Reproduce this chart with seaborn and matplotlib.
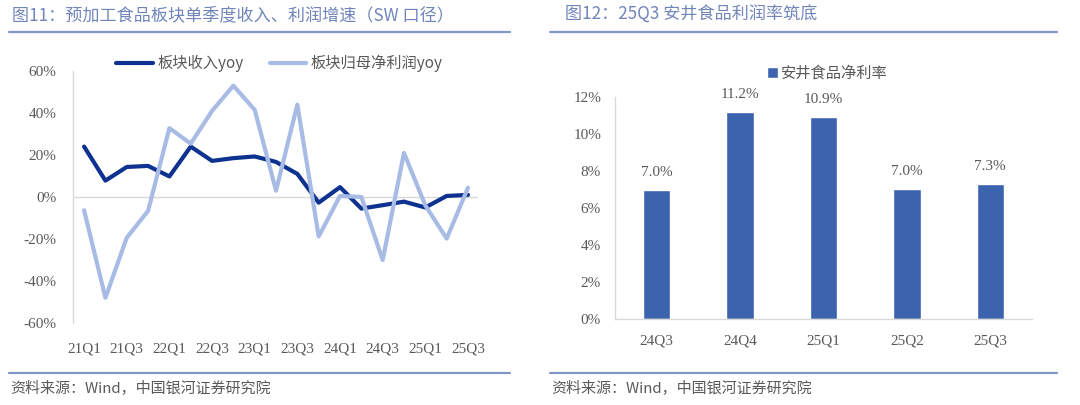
import matplotlib
matplotlib.use("Agg")
import matplotlib.pyplot as plt
import seaborn as sns
import pandas as pd
from matplotlib.lines import Line2D

quarters = ["21Q1", "21Q2", "21Q3", "21Q4", "22Q1", "22Q2", "22Q3", "22Q4",
            "23Q1", "23Q2", "23Q3", "23Q4", "24Q1", "24Q2", "24Q3", "24Q4",
            "25Q1", "25Q2", "25Q3"]
revenue_yoy = [24.0, 7.8, 14.3, 14.8, 9.8, 24.0, 17.2, 18.5, 19.3, 16.7, 11.0,
               -2.7, 4.7, -5.5, -3.9, -2.2, -5.0, 0.5, 1.0]
profit_yoy = [-6.3, -48.0, -19.4, -6.6, 32.8, 25.4, 41.0, 53.0, 41.5, 3.0, 44.0,
              -18.8, 0.5, 0.0, -30.0, 21.0, -4.0, -19.8, 4.4]

bar_quarters = ["24Q3", "24Q4", "25Q1", "25Q2", "25Q3"]
net_margin = [6.97, 11.2, 10.9, 7.04, 7.3]

sns.set_theme(style="white")
plt.rcParams["font.family"] = ["Liberation Serif", "Noto Sans CJK SC", "DejaVu Sans"]
cjk = ["Noto Sans CJK SC", "DejaVu Sans"]

title_c = "#7185bb"
rule_c = "#8095c8"
text_c = "#595959"
dark = "#0d3290"
light = "#a7bbe4"
bar_c = "#3c63ad"

fig = plt.figure(figsize=(10.8, 4.05), dpi=100)

# panel frames: titles, rules, source notes
fig.text(12 / 1080, 1 - 15 / 405, "图11：预加工食品板块单季度收入、利润增速（SW 口径）",
         family=cjk, fontsize=12.3, color=title_c, va="center")
fig.text(565 / 1080, 1 - 15 / 405, "图12：25Q3 安井食品利润率筑底",
         family=cjk, fontsize=12.3, color=title_c, va="center")
for x0, x1 in [(9, 510), (550, 1057)]:
    fig.add_artist(Line2D([x0 / 1080, x1 / 1080], [1 - 32 / 405] * 2, color=rule_c, lw=1.6))
    fig.add_artist(Line2D([x0 / 1080, x1 / 1080], [1 - 373 / 405] * 2, color=rule_c, lw=1.6))
fig.text(10 / 1080, 1 - 389 / 405, "资料来源：Wind，中国银河证券研究院",
         family=cjk, fontsize=10.8, color=text_c, va="center", style="italic")
fig.text(551 / 1080, 1 - 389 / 405, "资料来源：Wind，中国银河证券研究院",
         family=cjk, fontsize=10.8, color=text_c, va="center", style="italic")

# left: line chart
ax1 = fig.add_axes([73 / 1080, 1 - 323 / 405, 405 / 1080, 252 / 405])
df = pd.DataFrame({"idx": range(len(quarters)), "rev": revenue_yoy, "prof": profit_yoy})
sns.lineplot(data=df, x="idx", y="rev", ax=ax1, color=dark, lw=3, label="板块收入yoy")
sns.lineplot(data=df, x="idx", y="prof", ax=ax1, color=light, lw=3, label="板块归母净利润yoy")
ax1.set_xlim(-0.52, 18.47)
ax1.set_ylim(-60, 60)
ax1.axhline(0, color="#d9d9d9", lw=1, zorder=0)
ax1.set_yticks(range(-60, 61, 20))
ax1.set_yticklabels([f"{v}%" for v in range(-60, 61, 20)])
ax1.set_xticks(range(0, len(quarters), 2))
ax1.set_xticklabels(quarters[::2])
ax1.tick_params(axis="both", length=0, labelsize=11, labelcolor=text_c)
ax1.tick_params(axis="x", pad=14)
ax1.tick_params(axis="y", pad=12)
ax1.set_xlabel("")
ax1.set_ylabel("")
for s in ["top", "right", "bottom"]:
    ax1.spines[s].set_visible(False)
ax1.spines["left"].set_color("#d9d9d9")
ax1.spines["left"].set_linewidth(1)
leg = ax1.legend(loc="center", bbox_to_anchor=(0.51, 1.03), ncol=2, frameon=False,
                 prop={"family": cjk, "size": 11}, handlelength=2.4, columnspacing=1.7,
                 handletextpad=0.3)
for t in leg.get_texts():
    t.set_color(text_c)

# right: bar chart
ax2 = fig.add_axes([615 / 1080, 1 - 319 / 405, 417 / 1080, 222 / 405])
bdf = pd.DataFrame({"q": bar_quarters, "m": net_margin})
sns.barplot(data=bdf, x="q", y="m", ax=ax2, color=bar_c, width=0.33,
            saturation=1, label="安井食品净利率")
for p, v in zip(ax2.patches, net_margin):
    ax2.text(p.get_x() + p.get_width() / 2, v + 0.6, f"{v:.1f}%", ha="center",
             va="bottom", fontsize=11, color=text_c)
ax2.set_xlim(-0.5, 4.5)
ax2.set_ylim(0, 12)
ax2.set_yticks(range(0, 13, 2))
ax2.set_yticklabels([f"{v}%" for v in range(0, 13, 2)])
ax2.tick_params(axis="both", length=0, labelsize=11, labelcolor=text_c)
ax2.tick_params(axis="x", pad=11)
ax2.tick_params(axis="y", pad=10)
ax2.set_xlabel("")
ax2.set_ylabel("")
for s in ["top", "right"]:
    ax2.spines[s].set_visible(False)
for s in ["left", "bottom"]:
    ax2.spines[s].set_color("#d9d9d9")
    ax2.spines[s].set_linewidth(1)
leg2 = ax2.legend(loc="center", bbox_to_anchor=(0.51, 1.108), frameon=False,
                  prop={"family": cjk, "size": 11}, handlelength=0.7, handleheight=0.7,
                  handletextpad=0.2)
for t in leg2.get_texts():
    t.set_color(text_c)

fig.savefig("out.png", dpi=100)
